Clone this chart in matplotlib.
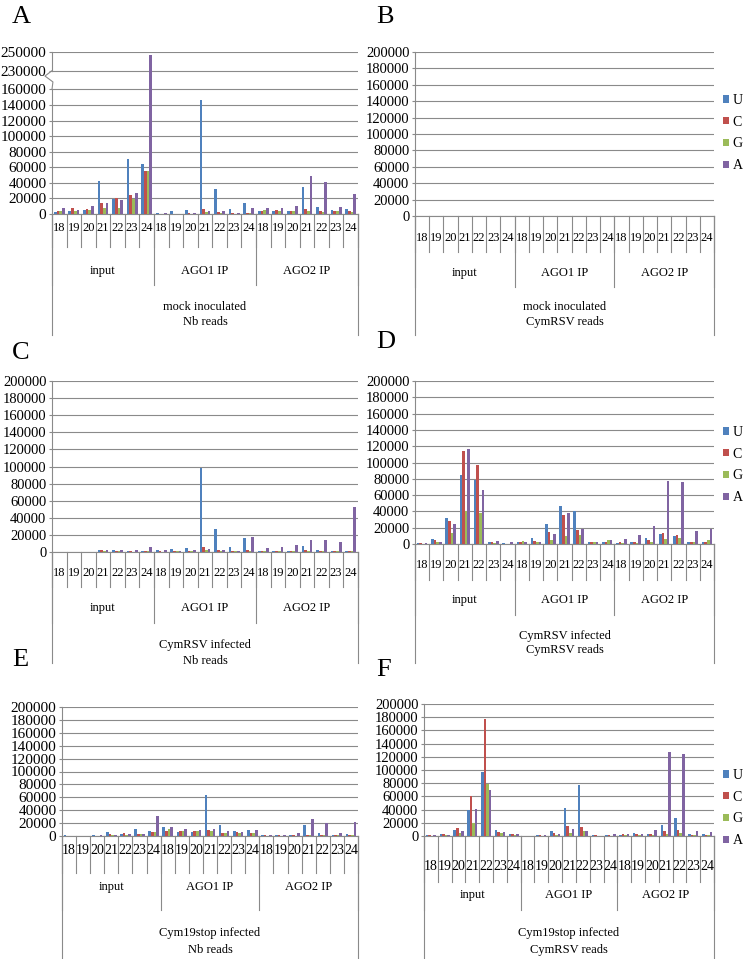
import numpy as np
import matplotlib
matplotlib.use('Agg')
import matplotlib.pyplot as plt
from matplotlib.transforms import blended_transform_factory

plt.rcParams['font.family'] = ['Liberation Serif', 'DejaVu Serif']

# ---------------- data ----------------
lengths = ['18', '19', '20', '21', '22', '23', '24']
groups = ['input', 'AGO1 IP', 'AGO2 IP']
bases = ['U', 'C', 'G', 'A']
base_colors = ['#4F81BD', '#C0504D', '#9BBB59', '#8064A2']

# each list: input 18-24, AGO1 IP 18-24, AGO2 IP 18-24
A_U = [2500, 3800, 5100, 42500, 19000, 70600, 64700, 1700, 3800, 4700, 146000, 31500, 6800, 14000, 3800, 4300, 3800, 34500, 8500, 5100, 6800]
A_C = [3400, 7700, 6400, 14500, 20000, 23800, 54900, 400, 300, 850, 6000, 3000, 1300, 1300, 4300, 5100, 3800, 6000, 3400, 3800, 4300]
A_G = [3800, 4200, 5500, 7700, 7200, 18700, 54900, 300, 200, 300, 2500, 1300, 400, 700, 4700, 3800, 3800, 4300, 3000, 3400, 3000]
A_A = [8000, 5100, 9800, 14000, 17900, 26400, 247000, 850, 400, 1300, 4300, 3400, 1300, 7700, 7200, 7200, 9800, 49400, 40900, 8500, 25500]

B_U = [0] * 21
B_C = [0] * 21
B_G = [0] * 21
B_A = [0] * 21

C_U = [100, 100, 300, 2500, 1800, 1500, 1500, 2000, 3000, 5000, 98000, 27000, 5500, 16000, 800, 1000, 1000, 7000, 2500, 1000, 1500]
C_C = [100, 100, 300, 1800, 1200, 1000, 1200, 800, 1200, 1500, 6000, 2500, 1500, 2000, 1000, 1200, 1200, 2000, 1500, 1500, 1500]
C_G = [50, 50, 200, 800, 600, 500, 800, 500, 800, 800, 2000, 1000, 700, 1500, 600, 700, 800, 1000, 800, 800, 800]
C_A = [100, 100, 500, 2000, 1800, 1800, 5500, 2000, 1500, 2000, 3500, 2500, 1000, 17500, 5000, 6000, 8500, 14500, 13500, 12000, 53000]

D_U = [1000, 6000, 31500, 85000, 78000, 3000, 800, 3000, 7000, 24000, 47000, 40000, 2500, 2500, 1500, 3000, 7000, 12500, 10000, 2500, 3000]
D_C = [1000, 5000, 28500, 114000, 96500, 2500, 500, 2000, 3500, 15000, 35500, 17000, 2000, 2500, 2000, 2500, 5000, 13000, 10500, 2500, 2000]
D_G = [300, 3000, 14000, 40000, 38000, 1500, 300, 3500, 2500, 5000, 9500, 11500, 2000, 4500, 1500, 1500, 2500, 6000, 7000, 3000, 4500]
D_A = [800, 3000, 25000, 116000, 66000, 4000, 2500, 2000, 3000, 12000, 38000, 18500, 3000, 5000, 6000, 11000, 22500, 77000, 76000, 15500, 18500]

E_U = [1500, 700, 800, 6500, 3000, 10500, 8000, 14500, 6500, 6500, 63500, 17000, 7000, 9000, 1500, 1500, 1500, 17500, 4500, 1500, 3000]
E_C = [500, 500, 500, 2500, 4000, 3000, 6500, 8000, 8000, 7000, 9000, 5000, 6000, 5000, 1000, 1000, 1000, 2000, 1500, 1000, 1500]
E_G = [300, 300, 300, 1500, 2000, 2500, 6000, 11000, 8000, 7000, 8000, 5000, 5000, 5000, 500, 500, 500, 1500, 1000, 1000, 1000]
E_A = [500, 500, 1000, 2000, 3000, 3500, 31000, 14500, 11000, 10000, 10500, 8000, 6500, 9500, 1500, 2000, 4000, 26500, 20500, 4500, 21500]

F_U = [1500, 2500, 9500, 39000, 97000, 9500, 3000, 300, 1500, 7000, 42000, 78000, 1500, 1500, 2000, 4000, 3500, 16500, 27000, 2500, 3000]
F_C = [1500, 2500, 12000, 61000, 177000, 6000, 2500, 200, 1000, 4000, 14500, 13000, 800, 1000, 3000, 3000, 3500, 8000, 9500, 2000, 2000]
F_G = [500, 1500, 5000, 20000, 79000, 4000, 1500, 100, 500, 1500, 5000, 7000, 500, 500, 1500, 2000, 2000, 3500, 4500, 1500, 1500]
F_A = [800, 2000, 7500, 41000, 69000, 6000, 3000, 200, 1000, 3000, 11000, 7500, 500, 2500, 2500, 3500, 9500, 127000, 125000, 7500, 6000]

titles = {
    'A': ('mock inoculated', 'Nb reads'),
    'B': ('mock inoculated', 'CymRSV reads'),
    'C': ('CymRSV infected', 'Nb reads'),
    'D': ('CymRSV infected', 'CymRSV reads'),
    'E': ('Cym19stop infected', 'Nb reads'),
    'F': ('Cym19stop infected', 'CymRSV reads'),
}
panel_data = {
    'A': [A_U, A_C, A_G, A_A],
    'B': [B_U, B_C, B_G, B_A],
    'C': [C_U, C_C, C_G, C_A],
    'D': [D_U, D_C, D_G, D_A],
    'E': [E_U, E_C, E_G, E_A],
    'F': [F_U, F_C, F_G, F_A],
}

# ---------------- layout (pixels) ----------------
W, H = 744, 959
GRAY = '#8a8a8a'
layout = {
    'A': dict(x0=52, x1=358, top=52, zero=214, num_y=228, num_bot=247, grp_y=271, grp_bot=285,
              out_bot=335, t1=307, t2=322, let=(12, 17), yfs=11, cfs=9, legend=None, broken=True),
    'B': dict(x0=415, x1=714, top=52, zero=216, num_y=238, num_bot=252, grp_y=273, grp_bot=287,
              out_bot=335, t1=307, t2=322, let=(376, 17), yfs=10.5, cfs=9, legend=(723, 133), broken=False),
    'C': dict(x0=52, x1=358, top=381, zero=552, num_y=573, num_bot=587, grp_y=608, grp_bot=623,
              out_bot=663, t1=645, t2=661, let=(12, 353), yfs=10.5, cfs=9, legend=None, broken=False),
    'D': dict(x0=415, x1=714, top=381, zero=544, num_y=565, num_bot=580, grp_y=600, grp_bot=615,
              out_bot=663, t1=636, t2=650, let=(376, 342), yfs=10.5, cfs=9, legend=(723, 465), broken=False),
    'E': dict(x0=62, x1=358, top=707, zero=836, num_y=850, num_bot=873, grp_y=887, grp_bot=910,
              out_bot=959, t1=933, t2=950, let=(12, 660), yfs=11, cfs=10, legend=None, broken=False),
    'F': dict(x0=424, x1=714, top=704, zero=836, num_y=867, num_bot=882, grp_y=895, grp_bot=910,
              out_bot=959, t1=933, t2=950, let=(376, 670), yfs=10.5, cfs=10, legend=(723, 808), broken=False),
}

fig = plt.figure(figsize=(W / 100, H / 100), dpi=100)


def fy(px):
    return 1 - px / H


def fwd(v):
    v = np.asarray(v, dtype=float)
    return np.where(v <= 160000, v,
                    np.where(v <= 230000, 160000 + (v - 160000) * 24000 / 70000,
                             184000 + (v - 230000) * 1.2))


def inv(p):
    p = np.asarray(p, dtype=float)
    return np.where(p <= 160000, p,
                    np.where(p <= 184000, 160000 + (p - 160000) * 70000 / 24000,
                             230000 + (p - 184000) / 1.2))


n = len(lengths) * len(groups)
x = np.arange(n)
bw = 0.185
offsets = (np.arange(4) - 1.5) * bw

for key, cfg in layout.items():
    ax = fig.add_axes([cfg['x0'] / W, fy(cfg['zero']), (cfg['x1'] - cfg['x0']) / W,
                       (cfg['zero'] - cfg['top']) / H])
    if cfg['broken']:
        ax.set_yscale('function', functions=(fwd, inv))
    for vals, off, col, lab in zip(panel_data[key], offsets, base_colors, bases):
        ax.bar(x + off, vals, width=bw, color=col, label=lab, zorder=3, linewidth=0)
    ax.set_xlim(-0.5, n - 0.5)
    if cfg['broken']:
        ticks = list(range(0, 160001, 20000)) + [230000, 250000]
        ax.set_ylim(0, 250000)
    else:
        ticks = list(range(0, 200001, 20000))
        ax.set_ylim(0, 200000)
    ax.set_yticks(ticks)
    ax.set_yticklabels([str(t) for t in ticks])
    ax.set_xticks([])
    ax.yaxis.grid(True, color=GRAY, linewidth=0.8)
    ax.set_axisbelow(True)
    for s in ['top', 'right']:
        ax.spines[s].set_visible(False)
    for s in ['left', 'bottom']:
        ax.spines[s].set_color(GRAY)
        ax.spines[s].set_linewidth(0.8)
    ax.tick_params(axis='y', labelsize=cfg['yfs'], length=2.5, width=0.8, color=GRAY, pad=1.5)
    ax.set_facecolor('none')

    if cfg['broken']:
        ax.spines['left'].set_bounds(0, 160000)
        tr_b = blended_transform_factory(ax.transAxes, ax.transData)
        ax.plot([0, 0], [230000, 250000], transform=tr_b, color=GRAY, lw=0.8, clip_on=False)
        ax.plot([0, -0.023, 0.003, 0], [230000, 210000, 188000, 160000], transform=tr_b,
                color=GRAY, lw=0.8, clip_on=False)

    tr = blended_transform_factory(ax.transData, fig.transFigure)
    # length separators
    for b in np.arange(-0.5, n, 1.0):
        ax.plot([b, b], [fy(cfg['zero']), fy(cfg['num_bot'])], transform=tr, color=GRAY,
                lw=0.8, clip_on=False)
    # group separators
    for b in [-0.5, 6.5, 13.5, 20.5]:
        ax.plot([b, b], [fy(cfg['zero']), fy(cfg['grp_bot'])], transform=tr, color=GRAY,
                lw=0.8, clip_on=False)
    # outer lines
    for b in [-0.5, 20.5]:
        ax.plot([b, b], [fy(cfg['zero']), fy(cfg['out_bot'])], transform=tr, color=GRAY,
                lw=0.8, clip_on=False)
    for i in range(n):
        ax.text(i, fy(cfg['num_y']), lengths[i % 7], transform=tr, ha='center', va='center',
                fontsize=cfg['cfs'])
    for g, name in enumerate(groups):
        ax.text(3 + 7 * g, fy(cfg['grp_y']), name, transform=tr, ha='center', va='center',
                fontsize=9)
    ax.text(10, fy(cfg['t1']), titles[key][0], transform=tr, ha='center', va='center', fontsize=9)
    ax.text(10, fy(cfg['t2']), titles[key][1], transform=tr, ha='center', va='center', fontsize=9)

    fig.text(cfg['let'][0] / W, fy(cfg['let'][1]), key, fontsize=19, ha='left', va='center')

    if cfg['legend'] is not None:
        ax.legend(loc='center left', bbox_to_anchor=(cfg['legend'][0] / W, fy(cfg['legend'][1])),
                  bbox_transform=fig.transFigure, frameon=False, fontsize=10,
                  handlelength=0.43, handleheight=0.43, labelspacing=0.63, handletextpad=0.25,
                  borderpad=0, borderaxespad=0)

fig.savefig('out.png', dpi=100)
